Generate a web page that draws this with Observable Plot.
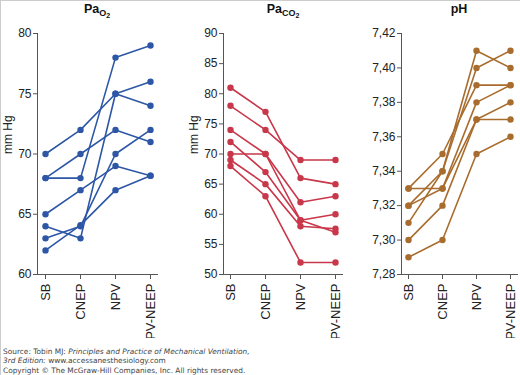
<!DOCTYPE html>
<html>
<head>
<meta charset="utf-8">
<script src="https://cdn.jsdelivr.net/npm/d3@7"></script>
<script src="https://cdn.jsdelivr.net/npm/@observablehq/plot@0.6"></script>
<style>
  html, body { margin: 0; padding: 0; background: #fff; }
  #chart { position: relative; width: 519px; height: 374px; border-left: 1px solid #ccc; border-top: 1px solid #ccc; overflow: hidden; font-family: "Liberation Sans", Arial, sans-serif; }
  .panel { position: absolute; top: 0; height: 337px; overflow: hidden; }
  .title { position: absolute; top: 1px; font-weight: bold; font-size: 12.5px; color: #111; transform: translateX(-50%); white-space: nowrap; }
  .title sub { font-size: 9px; vertical-align: -3px; }
  .title sub sub { font-size: 7px; vertical-align: -2px; }
  #footer { position: absolute; left: 2px; top: 346px; font-family: "DejaVu Sans", Verdana, sans-serif; font-size: 7.4px; line-height: 9px; color: #444; white-space: nowrap; }
</style>
</head>
<body>
<div id="chart">
  <div class="title" style="left:96px">Pa<sub>O<sub>2</sub></sub></div>
  <div class="title" style="left:282px">Pa<sub>CO<sub>2</sub></sub></div>
  <div class="title" style="left:458px">pH</div>
  <div class="panel" id="p1" style="left:-1px;width:170px"></div>
  <div class="panel" id="p2" style="left:169px;width:180px"></div>
  <div class="panel" id="p3" style="left:349px;width:170px"></div>
  <div id="footer">Source: Tobin MJ: <i>Principles and Practice of Mechanical Ventilation,</i><br><i>3rd Edition:</i> www.accessanesthesiology.com<div style="margin-top:1px">Copyright © The McGraw-Hill Companies, Inc. All rights reserved.</div></div>
</div>
<script>
const categories = ["SB", "CNEP", "NPV", "NPV-NEEP"];

// one row per patient: values at SB, CNEP, NPV, NPV-NEEP
const paO2 = [
  [70, 72, 75, 76],
  [68, 70, 72, 71],
  [68, 68, 78, 79],
  [65, 67, 69, 68.2],
  [64, 63, 75, 74],
  [63, 64, 70, 72],
  [62, 64.1, 67, 68.2]
];
const paCO2 = [
  [81, 77, 66, 65],
  [78, 74, 69, 69],
  [74, 70, 62, 63],
  [70, 70, 59, 60],
  [72, 67, 59, 57],
  [69, 65, 58, 57.6],
  [68, 63, 52, 52]
];
const pH = [
  [7.33, 7.35, 7.39, 7.39],
  [7.33, 7.33, 7.37, 7.38],
  [7.32, 7.34, 7.41, 7.40],
  [7.32, 7.33, 7.38, 7.39],
  [7.31, 7.34, 7.40, 7.41],
  [7.30, 7.32, 7.37, 7.37],
  [7.29, 7.30, 7.35, 7.36]
];

const paO2Ticks = [60, 65, 70, 75, 80];
const paCO2Ticks = [50, 55, 60, 65, 70, 75, 80, 85, 90];
const pHTicks = [7.28, 7.30, 7.32, 7.34, 7.36, 7.38, 7.40, 7.42];

const colors = { paO2: "#2d57a6", paCO2: "#c8374a", pH: "#a86d2e" };

function tidy(rows) {
  const out = [];
  rows.forEach((r, i) => r.forEach((v, j) => out.push({ id: i, cat: categories[j], value: v })));
  return out;
}

function panel({ el, width, marginLeft, marginRight, rows, ticks, color, fmt, ylabel, labelDx }) {
  const data = tidy(rows);
  const marks = [
    Plot.axisY({ ticks, tickSize: 4, tickPadding: 2, fontSize: 12, tickFormat: fmt, label: null, stroke: "#555", color: "#222" }),
    Plot.axisX({ tickSize: 5, tickPadding: 4, fontSize: 13, tickRotate: -90, label: null, stroke: "#555", color: "#222" }),
    Plot.frame({ anchor: "left", stroke: "#555" }),
    Plot.frame({ anchor: "bottom", stroke: "#555" }),
    Plot.line(data, { x: "cat", y: "value", z: "id", stroke: color, strokeWidth: 1.6 }),
    Plot.dot(data, { x: "cat", y: "value", fill: color, r: 3.2 })
  ];
  if (ylabel) {
    marks.push(Plot.text([ylabel], { text: d => d, frameAnchor: "left", dx: labelDx, rotate: -90, fontSize: 12, fill: "#222" }));
  }
  const svg = Plot.plot({
    width,
    height: 337,
    marginTop: 32,
    marginBottom: 64,
    marginLeft,
    marginRight,
    style: { fontFamily: "'Liberation Sans', Arial, sans-serif", background: "transparent", overflow: "hidden" },
    x: { type: "point", domain: categories, padding: 0.2 },
    y: { domain: [ticks[0], ticks[ticks.length - 1]] },
    marks
  });
  document.getElementById(el).appendChild(svg);
}

panel({ el: "p1", width: 170, marginLeft: 37, marginRight: 13, rows: paO2, ticks: paO2Ticks, color: colors.paO2, fmt: d => String(d), ylabel: "mm Hg", labelDx: -29 });
panel({ el: "p2", width: 180, marginLeft: 53, marginRight: 8, rows: paCO2, ticks: paCO2Ticks, color: colors.paCO2, fmt: d => String(d), ylabel: "mm Hg", labelDx: -29 });
panel({ el: "p3", width: 170, marginLeft: 51, marginRight: 3, rows: pH, ticks: pHTicks, color: colors.pH, fmt: d => d.toFixed(2).replace(".", ","), ylabel: null });
</script>
</body>
</html>
